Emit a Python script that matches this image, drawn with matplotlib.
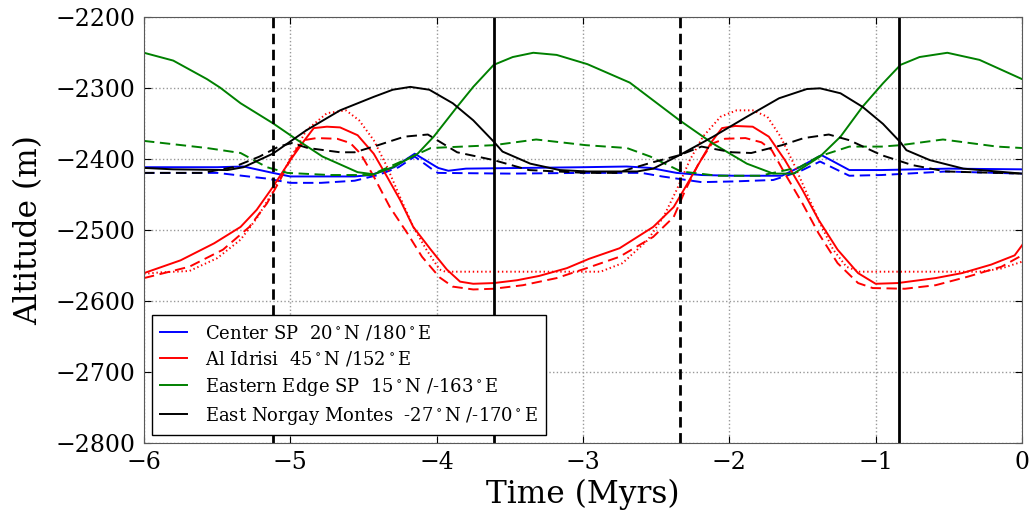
import numpy as np
import matplotlib
matplotlib.use('Agg')
import matplotlib.pyplot as plt

# ############ #
# Data (read)  #
# ############ #
# Center SP
blue_solid_t = [-6, -5.5, -5.32, -5.12, -5.0, -4.56, -4.45, -4.29, -4.15, -3.99, -3.92, -3.8, -3.0, -2.7,
                -2.54, -2.36, -2.19, -1.97, -1.64, -1.52, -1.37, -1.18, -0.96, -0.5, 0]
blue_solid_h = [-2412, -2412, -2411, -2420, -2425, -2425, -2423, -2412, -2393, -2413, -2417, -2414, -2412, -2411,
                -2413, -2420, -2423, -2424, -2424, -2412, -2395, -2416, -2416, -2414, -2415]
blue_dash_t = [-6, -5.5, -5.16, -5.0, -4.79, -4.56, -4.40, -4.26, -4.15, -4.01, -3.99, -3.5, -3.0, -2.6,
               -2.46, -2.19, -1.97, -1.70, -1.52, -1.38, -1.18, -0.96, -0.52, 0]
blue_dash_h = [-2420, -2420, -2428, -2434, -2434, -2431, -2423, -2412, -2397, -2418, -2420, -2421, -2420, -2420,
               -2425, -2433, -2432, -2430, -2418, -2404, -2424, -2423, -2418, -2421]

# Al Idrisi
red_solid_t = [-6, -5.75, -5.52, -5.34, -5.23, -5.12, -5.0, -4.91, -4.84, -4.75, -4.66, -4.54, -4.43, -4.34,
               -4.25, -4.16, -4.04, -3.93, -3.84, -3.75, -3.61, -3.45, -3.30, -3.11, -2.96, -2.75, -2.52,
               -2.38, -2.30, -2.18, -2.12, -2.05, -1.96, -1.84, -1.73, -1.62, -1.50, -1.39, -1.26, -1.12,
               -1.00, -0.85, -0.59, -0.41, -0.21, -0.05, 0]
red_solid_h = [-2561, -2543, -2519, -2496, -2472, -2440, -2402, -2376, -2357, -2355, -2356, -2367, -2393, -2425,
               -2458, -2496, -2528, -2556, -2573, -2576, -2575, -2571, -2565, -2554, -2541, -2526, -2496,
               -2468, -2440, -2397, -2376, -2357, -2354, -2355, -2369, -2402, -2444, -2486, -2528, -2561,
               -2576, -2575, -2568, -2561, -2549, -2536, -2522]
red_dash_t = [-6, -5.69, -5.46, -5.28, -5.16, -5.07, -4.98, -4.91, -4.82, -4.68, -4.59, -4.52, -4.43, -4.32,
              -4.20, -4.10, -3.98, -3.89, -3.75, -3.61, -3.41, -3.18, -2.96, -2.75, -2.52, -2.38, -2.30,
              -2.21, -2.12, -2.03, -1.89, -1.78, -1.71, -1.62, -1.50, -1.39, -1.26, -1.12, -1.02, -0.80,
              -0.59, -0.37, -0.14, 0]
red_dash_h = [-2568, -2552, -2528, -2496, -2463, -2430, -2393, -2374, -2371, -2372, -2378, -2393, -2425, -2468,
              -2505, -2538, -2567, -2580, -2584, -2583, -2578, -2568, -2553, -2538, -2510, -2482, -2444,
              -2407, -2379, -2372, -2371, -2377, -2388, -2421, -2463, -2505, -2547, -2575, -2582, -2583,
              -2578, -2566, -2552, -2536]
red_dot_t = [-6, -5.89, -5.69, -5.50, -5.34, -5.23, -5.12, -5.0, -4.89, -4.75, -4.62, -4.53, -4.43, -4.34,
             -4.25, -4.16, -4.07, -3.98, -3.94, -2.88, -2.73, -2.56, -2.45, -2.36, -2.27, -2.18, -2.06,
             -1.95, -1.84, -1.74, -1.65, -1.56, -1.47, -1.38, -1.29, -1.20, -1.11, -0.29, -0.15, 0]
red_dot_h = [-2562, -2560, -2558, -2540, -2514, -2484, -2447, -2400, -2360, -2336, -2332, -2346, -2374, -2411,
             -2454, -2496, -2528, -2556, -2559, -2559, -2547, -2515, -2482, -2444, -2402, -2369, -2341,
             -2332, -2332, -2341, -2369, -2407, -2449, -2491, -2528, -2552, -2559, -2559, -2555, -2545]

# Eastern Edge SP
green_solid_t = [-6, -5.80, -5.57, -5.48, -5.34, -5.12, -4.95, -4.78, -4.54, -4.43, -4.30, -4.13, -4.02, -3.86,
                 -3.75, -3.61, -3.48, -3.34, -3.18, -2.97, -2.68, -2.34, -2.11, -1.88, -1.70, -1.56, -1.38,
                 -1.24, -1.09, -0.95, -0.83, -0.70, -0.51, -0.29, 0]
green_solid_h = [-2251, -2262, -2288, -2300, -2322, -2350, -2374, -2397, -2419, -2422, -2412, -2393, -2369, -2327,
                 -2299, -2268, -2257, -2251, -2254, -2267, -2293, -2346, -2379, -2407, -2421, -2421, -2397,
                 -2369, -2327, -2294, -2268, -2257, -2251, -2261, -2288]
green_dash_t = [-6, -5.57, -5.34, -5.16, -5.02, -4.73, -4.45, -4.22, -4.04, -3.61, -3.32, -2.98, -2.70, -2.54,
                -2.33, -2.08, -1.79, -1.52, -1.39, -1.18, -0.96, -0.83, -0.54, -0.17, 0]
green_dash_h = [-2375, -2385, -2392, -2412, -2420, -2423, -2423, -2402, -2385, -2381, -2373, -2381, -2385, -2397,
                -2418, -2424, -2424, -2412, -2397, -2383, -2383, -2381, -2373, -2383, -2385]

# East Norgay Montes
black_solid_t = [-6, -5.80, -5.43, -5.32, -5.12, -4.89, -4.66, -4.43, -4.30, -4.18, -4.05, -3.89, -3.75, -3.61,
                 -3.55, -3.36, -3.16, -2.97, -2.63, -2.52, -2.34, -2.11, -1.88, -1.66, -1.47, -1.38, -1.24,
                 -1.09, -0.95, -0.83, -0.79, -0.63, -0.40, 0]
black_solid_h = [-2413, -2415, -2416, -2412, -2393, -2360, -2332, -2313, -2303, -2299, -2303, -2322, -2346, -2376,
                 -2390, -2407, -2416, -2418, -2418, -2414, -2395, -2369, -2341, -2315, -2302, -2301, -2308,
                 -2327, -2351, -2377, -2388, -2402, -2414, -2421]
black_dash_t = [-6, -5.6, -5.39, -5.21, -5.08, -4.99, -4.88, -4.66, -4.56, -4.40, -4.22, -4.06, -3.86, -3.61,
                -3.37, -2.98, -2.77, -2.54, -2.34, -2.19, -1.98, -1.85, -1.64, -1.49, -1.32, -1.18, -0.96,
                -0.75, -0.52, 0]
black_dash_h = [-2420, -2420, -2412, -2397, -2383, -2378, -2385, -2391, -2391, -2381, -2369, -2366, -2391, -2402,
                -2416, -2420, -2420, -2406, -2395, -2383, -2391, -2392, -2381, -2371, -2366, -2374, -2395,
                -2409, -2418, -2421]

# vertical markers (Myrs)
vlines_dashed = [-5.12, -2.34]
vlines_solid = [-3.61, -0.84]

labels = ['Center SP  20$^\\circ$N /180$^\\circ$E',
          'Al Idrisi  45$^\\circ$N /152$^\\circ$E',
          'Eastern Edge SP  15$^\\circ$N /-163$^\\circ$E',
          'East Norgay Montes  -27$^\\circ$N /-170$^\\circ$E']


# ######## #
# Plotting #
# ######## #
def main():
    plt.rcParams['font.family'] = 'DejaVu Serif'
    plt.rcParams['mathtext.fontset'] = 'dejavuserif'
    plt.rcParams['lines.scale_dashes'] = False

    fig = plt.figure(figsize=(10.3, 5.18), dpi=100)
    ax = fig.add_axes([0.1398, 0.1448, 0.8524, 0.8233])

    dash = (7.5, 4)
    dot = (1, 2)
    lw = 1.4

    ax.plot(blue_solid_t, blue_solid_h, color='b', lw=lw, label=labels[0])
    ax.plot(blue_dash_t, blue_dash_h, color='b', lw=lw, dashes=dash)
    ax.plot(red_solid_t, red_solid_h, color='r', lw=lw, label=labels[1])
    ax.plot(red_dash_t, red_dash_h, color='r', lw=lw, dashes=dash)
    ax.plot(red_dot_t, red_dot_h, color='r', lw=lw, dashes=dot)
    ax.plot(green_solid_t, green_solid_h, color='g', lw=lw, label=labels[2])
    ax.plot(green_dash_t, green_dash_h, color='g', lw=lw, dashes=dash)
    ax.plot(black_solid_t, black_solid_h, color='k', lw=lw, label=labels[3])
    ax.plot(black_dash_t, black_dash_h, color='k', lw=lw, dashes=dash)

    for v in vlines_dashed:
        ax.axvline(v, color='k', lw=2, dashes=(7.5, 4))
    for v in vlines_solid:
        ax.axvline(v, color='k', lw=2)

    ax.set_xlim(-6, 0)
    ax.set_ylim(-2800, -2200)
    ax.set_xticks(np.arange(-6, 1, 1))
    ax.set_yticks(np.arange(-2800, -2199, 100))
    ax.grid(True, color='0.6', linestyle=':', lw=1)
    ax.tick_params(direction='in', length=5, top=True, right=True, labelsize=17, pad=6)
    for s in ax.spines.values():
        s.set_color('0.35')

    ax.set_xlabel('Time (Myrs)', fontsize=22.5, labelpad=3)
    ax.set_ylabel('Altitude (m)', fontsize=22.5, labelpad=8)

    leg = ax.legend(loc='lower left', fontsize=13, handlelength=1.5, labelspacing=0.4,
                    handletextpad=1.0, borderpad=0.45, fancybox=False, framealpha=1,
                    borderaxespad=0.45)
    leg.get_frame().set_edgecolor('k')

    fig.savefig('out.png', dpi=100)


if __name__ == "__main__":
    main()
